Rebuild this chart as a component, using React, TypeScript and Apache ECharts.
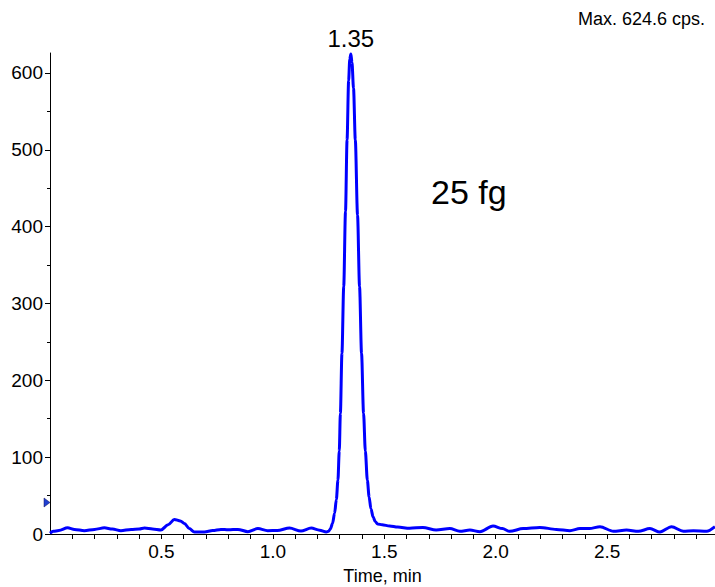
import React, { useEffect, useRef } from "react";
import * as echarts from "echarts";

const times: number[] = [
  0.0, 0.015, 0.04, 0.079, 0.11, 0.154, 0.2, 0.244, 0.28, 0.318, 0.364, 0.4, 0.424, 0.46, 0.498,
  0.53, 0.558, 0.585, 0.603, 0.625, 0.648, 0.693, 0.73, 0.767, 0.8, 0.843, 0.888, 0.933, 0.977,
  1.02, 1.075, 1.126, 1.172, 1.21, 1.24, 1.25, 1.258, 1.268, 1.277, 1.285, 1.292, 1.298, 1.303,
  1.31, 1.318, 1.326, 1.333, 1.34, 1.345, 1.35, 1.355, 1.362, 1.37, 1.38, 1.389, 1.398, 1.407,
  1.415, 1.424, 1.432, 1.44, 1.45, 1.46, 1.47, 1.49, 1.524, 1.56, 1.614, 1.673, 1.733,
  1.794, 1.839, 1.884, 1.929, 1.988, 2.03, 2.063, 2.123, 2.198, 2.272, 2.333, 2.378, 2.42, 2.468,
  2.528, 2.587, 2.64, 2.692, 2.737, 2.789, 2.842, 2.887, 2.947, 2.984,
];
const intensities: number[] = [
  1, 3.5, 4.5, 8, 6, 4.3, 6, 8, 6.5, 4.3, 6, 6.5, 7.7, 6.5, 5.2,
  12, 19, 17, 13.8, 7, 2.6, 2.6, 4.5, 6, 5.5, 6, 3, 7, 4.3,
  4.5, 7.7, 3.9, 7.7, 5, 2.6, 3.5, 6.5, 14, 27, 45, 70, 108, 157,
  235, 322, 420, 513, 590, 618, 624.6, 614, 580, 513, 415, 322, 235, 157,
  108, 70, 48, 33, 22, 16, 13, 12, 10.5, 9, 7.4, 8.6, 5.2,
  7, 3.5, 5.2, 3, 10.4, 7, 3.5, 7, 8.6, 6, 4.3, 7, 7, 9.5,
  3.5, 5.2, 3.5, 7, 2.6, 9.5, 3.5, 4.3, 3.5, 9.5,
];
const xLabelValues: number[] = [0.5, 1.0, 1.5, 2.0, 2.5];
const xTickValues: number[] = [
  0.1, 0.2, 0.3, 0.4, 0.5, 0.6, 0.7, 0.8, 0.9, 1.0, 1.1, 1.2, 1.3, 1.4, 1.5, 1.6, 1.7, 1.8, 1.9,
  2.0, 2.1, 2.2, 2.3, 2.4, 2.5, 2.6, 2.7, 2.8, 2.9,
];
const yLabelValues: number[] = [0, 100, 200, 300, 400, 500, 600];
const yMinorValues: number[] = [50, 150, 250, 350, 450, 550];
const markerLevel = 41;
const sampleLabel = "25 fg";
const xAxisName = "Time, min";

const FONT = "'Liberation Sans', Arial, sans-serif";

export default function App() {
  const ref = useRef<HTMLDivElement>(null);
  useEffect(() => {
    if (!ref.current) return;
    const chart = echarts.init(ref.current, null, { renderer: "svg" });
    let peakIdx = 0;
    intensities.forEach((v, i) => {
      if (v > intensities[peakIdx]) peakIdx = i;
    });
    const peakT = times[peakIdx];
    const peakV = intensities[peakIdx];
    const data = times.map((t, i) => [t, intensities[i]]);
    chart.setOption({
      animation: false,
      backgroundColor: "#ffffff",
      textStyle: { fontFamily: FONT },
      grid: {
        left: 50,
        right: 0,
        top: 53,
        bottom: 53,
        containLabel: false,
        outerBoundsMode: "none",
      },
      graphic: [
        {
          type: "text",
          right: 10,
          top: 10,
          style: {
            text: `Max. ${peakV.toFixed(1)} cps.`,
            fontSize: 18,
            fontFamily: FONT,
            fill: "#000",
          },
        },
        {
          type: "text",
          left: 431,
          top: 175,
          style: { text: sampleLabel, fontSize: 34, fontFamily: FONT, fill: "#000" },
        },
      ],
      xAxis: {
        type: "value",
        min: 0,
        max: 2.984,
        name: xAxisName,
        nameLocation: "middle",
        nameGap: 33,
        nameTextStyle: { fontSize: 18, color: "#000", fontFamily: FONT },
        axisLine: { show: true, onZero: false, lineStyle: { color: "#000", width: 1 } },
        axisTick: {
          show: true,
          length: 5,
          customValues: xTickValues,
          lineStyle: { color: "#000", width: 1 },
        },
        axisLabel: {
          customValues: xLabelValues,
          formatter: (v: number) => v.toFixed(1),
          fontSize: 19,
          color: "#000",
          margin: 8,
          fontFamily: FONT,
        },
        splitLine: { show: false },
      },
      yAxis: [
        {
          type: "value",
          min: 0,
          max: 626,
          axisLine: { show: true, onZero: false, lineStyle: { color: "#000", width: 1 } },
          axisTick: {
            show: true,
            length: 5,
            customValues: yLabelValues,
            lineStyle: { color: "#000", width: 1 },
          },
          axisLabel: {
            customValues: yLabelValues,
            fontSize: 19,
            color: "#000",
            margin: 7,
            fontFamily: FONT,
          },
          splitLine: { show: false },
        },
        {
          type: "value",
          min: 0,
          max: 626,
          position: "left",
          axisLine: { show: false },
          axisTick: {
            show: true,
            length: 3,
            customValues: yMinorValues,
            lineStyle: { color: "#000", width: 1 },
          },
          axisLabel: { show: false },
          splitLine: { show: false },
        },
      ],
      series: [
        {
          type: "line",
          data,
          showSymbol: false,
          smooth: 0.3,
          smoothMonotone: "x",
          lineStyle: { color: "#0000ff", width: 3 },
          itemStyle: { color: "#0000ff" },
          clip: true,
          markPoint: {
            silent: true,
            data: [
              {
                coord: [peakT, peakV],
                symbol: "circle",
                symbolSize: 0,
                label: {
                  show: true,
                  position: "top",
                  distance: 4,
                  formatter: () => peakT.toFixed(2),
                  fontSize: 24,
                  color: "#000",
                  fontFamily: FONT,
                },
              },
              {
                coord: [0, markerLevel],
                symbol: "triangle",
                symbolRotate: -90,
                symbolSize: [9, 6],
                symbolOffset: [-3, 0],
                itemStyle: { color: "#1f3fd0", borderColor: "#101060", borderWidth: 0.5 },
                label: { show: false },
              },
            ],
          },
        },
      ],
    });
    return () => chart.dispose();
  }, []);
  return (
    <div
      ref={ref}
      style={{ position: "fixed", left: 0, top: 0, width: 715, height: 587, background: "#fff" }}
    />
  );
}
